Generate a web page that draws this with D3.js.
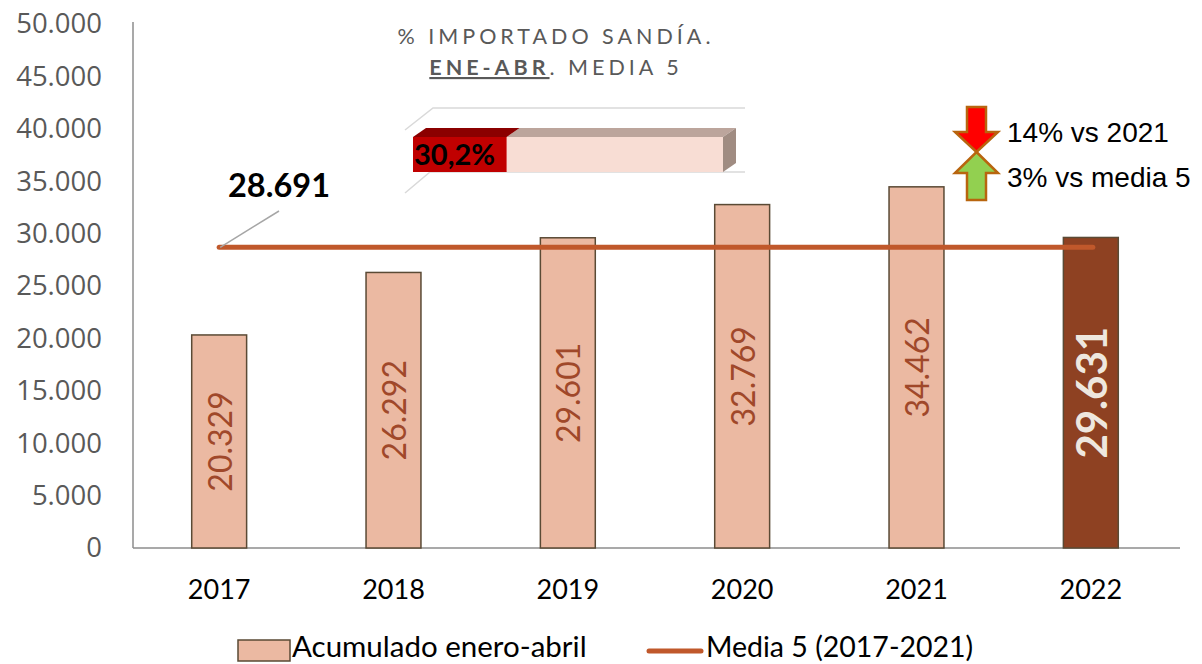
<!DOCTYPE html>
<html><head><meta charset="utf-8">
<script src="https://cdn.jsdelivr.net/npm/d3@7/dist/d3.min.js"></script>
<style>body{margin:0;background:#fff;} svg{display:block;}</style>
</head><body>
<svg id="c" width="1202" height="664"></svg>
<script>
// ---- data ----
const categories = ["2017", "2018", "2019", "2020", "2021", "2022"];
const acumulado = [20329, 26292, 29601, 32769, 34462, 29631];
const media5 = 28691;
const yTicks = [0, 5000, 10000, 15000, 20000, 25000, 30000, 35000, 40000, 45000, 50000];
const pctImportado = 30.2;
const legendLabels = ["Acumulado enero-abril", "Media 5 (2017-2021)"];
const titleLine1 = "% IMPORTADO SANDÍA.";
const titleBold = "ENE-ABR";
const titleRest = ". MEDIA 5";
const arrowTexts = ["14% vs 2021", "3% vs media 5"];

(function () {
const es = d3.formatLocale({decimal: ",", thousands: ".", grouping: [3], currency: ["", "€"]});
const fmt = es.format(",.0f");
const fmtPct = v => es.format(",.1f")(v) + "%";

const svg = d3.select("#c");
const x = d3.scaleBand().domain(categories).range([132, 1178]);
const y = d3.scaleLinear().domain([0, 50000]).range([548, 24]);
const bw = x.bandwidth() * 0.315;
const cx = d => x(d) + x.bandwidth() / 2;

// axes
const yAxis = svg.append("g").attr("transform", "translate(133,0)")
  .call(d3.axisLeft(y).tickValues(yTicks).tickFormat(d => d === 0 ? "0" : fmt(d)).tickSize(0).tickPadding(31));
yAxis.select(".domain").attr("stroke", "#8c8c8c").attr("stroke-width", 1.5).attr("d", "M0,22V548");
yAxis.selectAll("text").attr("font-family", "Open Sans").attr("font-size", 27.5).attr("fill", "#595959");

const xAxis = svg.append("g").attr("transform", "translate(0,548)")
  .call(d3.axisBottom(x).tickSize(0).tickPadding(0));
xAxis.select(".domain").attr("stroke", "#8c8c8c").attr("stroke-width", 1.5).attr("d", "M133,0H1180");
xAxis.selectAll("text").attr("font-family", "Lato").attr("font-size", 27).attr("fill", "#000")
  .attr("dy", null).attr("y", 51);

// bars
const last = categories.length - 1;
svg.append("g").selectAll("rect").data(categories).join("rect")
  .attr("x", d => cx(d) - bw / 2)
  .attr("width", bw)
  .attr("y", (d, i) => y(acumulado[i]))
  .attr("height", (d, i) => y(0) - y(acumulado[i]))
  .attr("fill", (d, i) => i === last ? "#8E4122" : "#EBB9A2")
  .attr("stroke", "#5a4a35").attr("stroke-width", 1.5);

// bar labels
svg.append("g").selectAll("text").data(categories).join("text")
  .attr("transform", (d, i) => `translate(${cx(d)},${(y(acumulado[i]) + y(0)) / 2}) rotate(-90)`)
  .attr("text-anchor", "middle").attr("dominant-baseline", "central")
  .attr("font-family", "Lato")
  .attr("font-size", (d, i) => i === last ? 42 : 32)
  .attr("font-weight", (d, i) => i === last ? "bold" : "normal")
  .attr("fill", (d, i) => i === last ? "#EEE7DE" : "#A0482A")
  .text((d, i) => fmt(acumulado[i]));

// media line
svg.append("line")
  .attr("x1", cx(categories[0])).attr("x2", cx(categories[last]) + 2)
  .attr("y1", y(media5)).attr("y2", y(media5))
  .attr("stroke", "#C0582B").attr("stroke-width", 5).attr("stroke-linecap", "round");

// media label and leader
svg.append("line")
  .attr("x1", cx(categories[0]) + 1).attr("y1", y(media5))
  .attr("x2", 279).attr("y2", 211)
  .attr("stroke", "#a6a6a6").attr("stroke-width", 1.5);
svg.append("text").attr("x", 279).attr("y", 197).attr("text-anchor", "middle")
  .attr("font-family", "Lato").attr("font-weight", "bold").attr("font-size", 32.5).attr("fill", "#000")
  .text(fmt(media5));

// ---- inset 3D percentage bar ----
const p = d3.scaleLinear().domain([0, 100]).range([413, 723]);
const yTop = 137, yBot = 172, dx = 13, dy = -9;
const ins = svg.append("g");
ins.append("path").attr("d", `M405,130L433,108H745M405,193L430,172H745`)
  .attr("fill", "none").attr("stroke", "#d9d9d9").attr("stroke-width", 1.5);
const pv = p(pctImportado), p0 = p(0), p1 = p(100);
ins.append("path").attr("d", `M${pv},${yTop}L${pv + dx},${yTop + dy}H${p1 + dx}L${p1},${yTop}Z`).attr("fill", "#BCA59C");
ins.append("path").attr("d", `M${p1},${yTop}L${p1 + dx},${yTop + dy}V${yBot + dy}L${p1},${yBot}Z`).attr("fill", "#A08C82");
ins.append("rect").attr("x", pv).attr("y", yTop).attr("width", p1 - pv).attr("height", yBot - yTop).attr("fill", "#F8DDD4");
ins.append("path").attr("d", `M${p0},${yTop}L${p0 + dx},${yTop + dy}H${pv + dx}L${pv},${yTop}Z`).attr("fill", "#8B0000");
ins.append("rect").attr("x", p0).attr("y", yTop).attr("width", pv - p0).attr("height", yBot - yTop).attr("fill", "#C00000");
ins.append("text").attr("x", p0 + 1).attr("y", 165)
  .attr("font-family", "Lato").attr("font-weight", "bold").attr("font-size", 29).attr("fill", "#000")
  .text(fmtPct(pctImportado));

// title
svg.append("text").attr("x", 556).attr("y", 44).attr("text-anchor", "middle")
  .attr("font-family", "Lato").attr("font-size", 21.5).attr("letter-spacing", 4).attr("fill", "#595959")
  .text(titleLine1);
const t2 = svg.append("text").attr("x", 556).attr("y", 75).attr("text-anchor", "middle")
  .attr("font-family", "Lato").attr("font-size", 21.5).attr("letter-spacing", 4).attr("fill", "#595959");
t2.append("tspan").attr("font-weight", "bold").attr("text-decoration", "underline").text(titleBold);
t2.append("tspan").text(titleRest);

// arrows
const ac = 976.5;
const arrowG = svg.append("g").attr("stroke", "#B8650E").attr("stroke-width", 2.5).attr("stroke-linejoin", "miter");
arrowG.append("path").attr("fill", "#FF0000")
  .attr("d", `M${ac - 9.5},107H${ac + 9.5}V132H${ac + 21.5}L${ac},152L${ac - 21.5},132H${ac - 9.5}Z`);
arrowG.append("path").attr("fill", "#92D050")
  .attr("d", `M${ac},152L${ac + 21.5},173H${ac + 9.5}V200H${ac - 9.5}V173H${ac - 21.5}Z`);
svg.append("g").selectAll("text").data(arrowTexts).join("text")
  .attr("x", 1007).attr("y", (d, i) => 142 + i * 45)
  .attr("font-family", "Liberation Sans").attr("font-size", 28).attr("fill", "#000")
  .text(d => d);

// legend
const lg = svg.append("g");
lg.append("rect").attr("x", 238).attr("y", 640).attr("width", 52).attr("height", 21)
  .attr("fill", "#EBB9A2").attr("stroke", "#5a4a35").attr("stroke-width", 1.5);
lg.append("text").attr("x", 292).attr("y", 657).attr("font-family", "Lato").attr("font-size", 29.5).attr("fill", "#000")
  .text(legendLabels[0]);
lg.append("line").attr("x1", 649).attr("x2", 701).attr("y1", 651).attr("y2", 651)
  .attr("stroke", "#C0582B").attr("stroke-width", 5).attr("stroke-linecap", "round");
lg.append("text").attr("x", 706).attr("y", 657).attr("font-family", "Lato").attr("font-size", 28.5).attr("fill", "#000")
  .text(legendLabels[1]);
})();
</script>
</body></html>
